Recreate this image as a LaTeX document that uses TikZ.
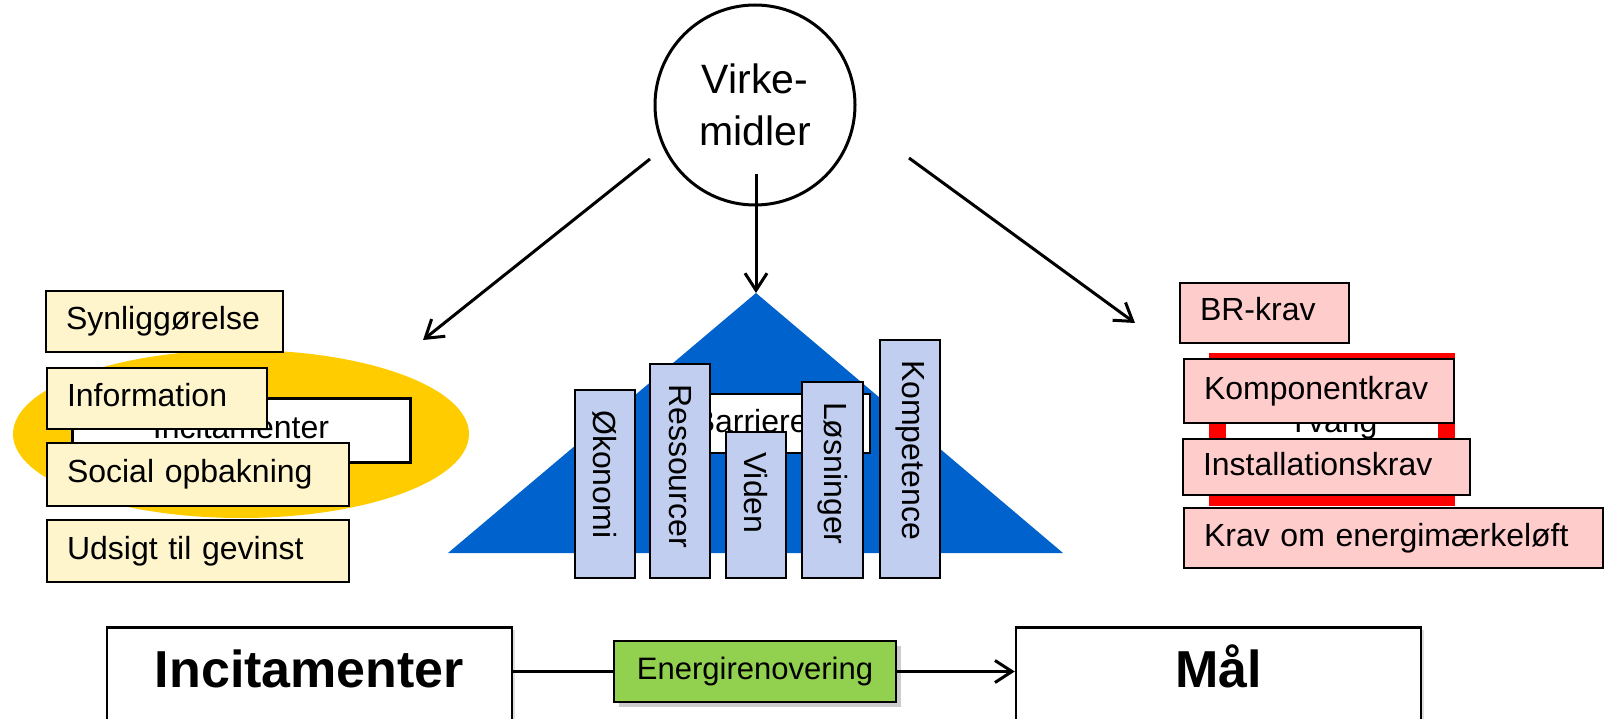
\documentclass[tikz,border=0pt]{standalone}
\usepackage{fontspec}
\setmainfont{Liberation Sans}
\usetikzlibrary{arrows.meta,shapes.geometric,shadows,calc}
\definecolor{gold}{RGB}{255,204,0}
\definecolor{lyellow}{RGB}{255,245,204}
\definecolor{lpink}{RGB}{255,204,204}
\definecolor{triblue}{RGB}{0,98,204}
\definecolor{barblue}{RGB}{193,206,240}
\definecolor{egreen}{RGB}{146,208,80}
\begin{document}
\begin{tikzpicture}[x=1pt,y=-1pt,
  txt/.style={font=\fontsize{32}{38}\selectfont},
  ybox/.style={txt, draw=black, line width=2pt, fill=lyellow, rectangle, anchor=north west,
    inner xsep=20pt, inner ysep=0pt, align=left, text height=23pt, text depth=7pt},
  pbox/.style={ybox, fill=lpink},
  bar/.style={draw=black, line width=2pt, fill=barblue, anchor=north west, inner sep=0pt},
  barlabel/.style={txt, rotate=-90, anchor=west, inner sep=0pt},
  arr/.style={line width=3pt, -{Straight Barb[length=17pt,width=22pt]}},
  bigbox/.style={draw=black, line width=2.5pt, fill=white, anchor=north, inner sep=0pt,
    drop shadow={shadow xshift=3pt, shadow yshift=-3pt, opacity=0.25}},
  bigtext/.style={font=\fontsize{52}{60}\selectfont\bfseries, anchor=base},
]
\useasboundingbox (0,0) rectangle (1604,719);
\clip (0,0) rectangle (1604,719);

% ---- top circle and arrows
\node[circle, draw=black, line width=3pt, minimum size=200pt, inner sep=0pt, align=center,
  font=\fontsize{41}{52}\selectfont] (vm) at (755,105) {Virke-\\midler};
\coordinate (lA) at (650,159); \coordinate (lB) at (423,340);
\coordinate (mA) at (756,174); \coordinate (apex) at (756,293);
\coordinate (rA) at (909,158); \coordinate (rB) at (1135,323);
\draw[arr] (lA) -- (lB);
\draw[arr] (mA) -- (apex);
\draw[arr] (rA) -- (rB);

% ---- left group
\node[ellipse, fill=gold, minimum width=456pt, minimum height=168pt, inner sep=0pt] (ell) at (241,434) {};
\node[draw=black, line width=3pt, fill=white, minimum width=338pt, minimum height=64pt, inner sep=0pt] (incbox) at (241,430) {};
\node[txt, anchor=base, inner sep=0pt] (inclbl) at (241,438) {Incitamenter};
\node[ybox, text width=197pt, minimum height=61pt] (syn) at (45,290) {Synliggørelse};
\node[ybox, text width=180pt, minimum height=61pt] (inf) at (46,367) {Information};
\node[ybox, text width=262pt, minimum height=63pt] (soc) at (46,442) {Social opbakning};
\node[ybox, text width=262pt, minimum height=62pt] (uds) at (46,519) {Udsigt til gevinst};

% ---- middle group
\fill[triblue] (apex) -- (448,553) -- (1063,553) -- cycle;
\node[draw=black, line width=2pt, fill=white, minimum width=210pt, minimum height=59pt, inner sep=0pt] (barbox) at (765,423.5) {};
\node[txt, anchor=base, inner sep=0pt] (barlbl) at (756,432) {Barrierer};
\node[bar, minimum width=60pt, minimum height=188pt] (oko) at (574,389) {};
\node[bar, minimum width=60pt, minimum height=214pt] (res) at (649,363) {};
\node[bar, minimum width=60pt, minimum height=146pt] (vid) at (725,431) {};
\node[bar, minimum width=61pt, minimum height=196pt] (los) at (801,381) {};
\node[bar, minimum width=60pt, minimum height=238pt] (kom) at (879,339) {};
\node[barlabel] at ($(oko.north)+(0,21)$) {Økonomi};
\node[barlabel] at ($(res.north)+(0,21)$) {Ressourcer};
\node[barlabel] at ($(vid.north)+(0,21)$) {Viden};
\node[barlabel] at ($(los.north)+(0,21)$) {Løsninger};
\node[barlabel] at ($(kom.north)+(0,21)$) {Kompetence};

% ---- right group
\node[draw=red, line width=17pt, fill=white, minimum width=229pt, minimum height=136pt, inner sep=0pt] (tv) at (1332,429.5) {};
\node[txt, anchor=base, inner sep=0pt] (tvlbl) at (1333,432) {Tvang};
\node[pbox, text width=129pt, minimum height=60pt] (br) at (1179,282) {BR-krav};
\node[pbox, text width=230pt, minimum height=64pt] (komp) at (1183,358) {Komponentkrav};
\node[pbox, text width=247pt, minimum height=56pt] (inst) at (1182,438) {Installationskrav};
\node[pbox, text width=379pt, minimum height=60pt] (krav) at (1183,507) {Krav om energimærkeløft};

% ---- bottom row
\node[bigbox, minimum width=405pt, minimum height=150pt] (inc) at (309.5,626) {};
\node[bigtext] (inctxt) at (309.5,687) {Incitamenter};
\node[bigbox, minimum width=405pt, minimum height=150pt] (mal) at (1218.5,626) {};
\node[bigtext] (maltxt) at (1218.5,687) {Mål};
\node[draw=black, line width=2pt, fill=egreen, minimum width=282pt, minimum height=61pt, inner sep=0pt,
  font=\fontsize{31}{36}\selectfont,
  drop shadow={shadow xshift=5pt, shadow yshift=-5pt, opacity=0.4}] (en) at (755,671.5) {Energirenovering};
\draw[line width=3pt] (inc.east |- en.west) -- (en.west);
\draw[arr] (en.east) -- (en.east -| mal.west);
\end{tikzpicture}
\end{document}
